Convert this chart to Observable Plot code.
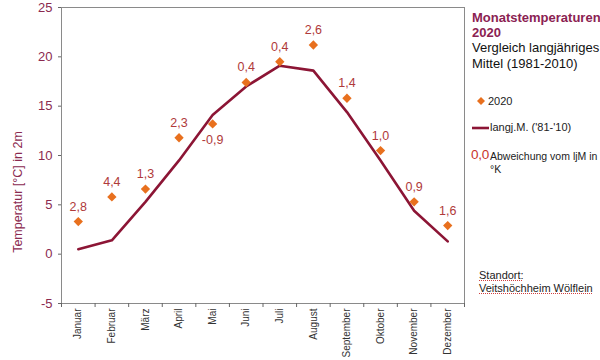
<!DOCTYPE html>
<html>
<head>
<meta charset="utf-8">
<script src="https://cdn.jsdelivr.net/npm/d3@7"></script>
<script src="https://cdn.jsdelivr.net/npm/@observablehq/plot@0.6"></script>
<style>
  body { margin: 0; background: #fff; font-family: "Liberation Sans", Arial, sans-serif; }
  #wrap { position: relative; width: 600px; height: 360px; overflow: hidden; }
  .abs { position: absolute; white-space: nowrap; line-height: 1; }
</style>
</head>
<body>
<div id="wrap"></div>
<script>
const months = ["Januar","Februar","März","April","Mai","Juni","Juli","August","September","Oktober","November","Dezember"];
const t2020 = [3.3, 5.8, 6.6, 11.8, 13.2, 17.4, 19.5, 21.2, 15.8, 10.5, 5.3, 2.9];
const meanLT = [0.5, 1.4, 5.3, 9.5, 14.1, 17.0, 19.1, 18.6, 14.4, 9.5, 4.4, 1.3];
const devLabels = ["2,8","4,4","1,3","2,3","-0,9","0,4","0,4","2,6","1,4","1,0","0,9","1,6"];
const yTicks = [-5, 0, 5, 10, 15, 20, 25];

const rows = months.map((m, i) => ({i: i + 0.5, month: m, t: t2020[i], mean: meanLT[i], dev: devLabels[i]}));
const above = rows.filter(d => !d.dev.startsWith("-"));
const below = rows.filter(d => d.dev.startsWith("-"));

const maroon = "#8b2a4f";
const lineCol = "#8c1535";
const dotCol = "#e8701e";
const labCol = "#b03a3a";

const chart = Plot.plot({
  width: 600, height: 360,
  marginLeft: 61, marginRight: 136, marginTop: 7, marginBottom: 57,
  style: {fontFamily: "Liberation Sans, Arial, sans-serif", background: "transparent"},
  x: {domain: [0, 12]},
  y: {domain: [-5, 25]},
  marks: [
    Plot.frame({stroke: "#8a8a8a"}),
    Plot.axisY({ticks: yTicks, tickSize: 3, tickPadding: 6, tickFormat: v => String(v), label: null, stroke: "#666", fill: maroon, fontSize: 13}),
    Plot.axisX({ticks: d3.range(0, 13), tickSize: 4, tickFormat: () => "", label: null, stroke: "#666"}),
    Plot.axisX({ticks: rows.map(d => d.i), tickSize: 0, tickPadding: 5, tickRotate: -90,
      tickFormat: v => months[Math.floor(v)], label: null, fill: "#333", fontSize: 10}),
    Plot.line(rows, {x: "i", y: "mean", stroke: lineCol, strokeWidth: 2.6}),
    Plot.dot(rows, {x: "i", y: "t", symbol: "diamond2", fill: dotCol, r: 4.2}),
    Plot.text(above, {x: "i", y: "t", text: "dev", dy: -15, fill: labCol, fontSize: 12.5}),
    Plot.text(below, {x: "i", y: "t", text: "dev", dy: 16, fill: labCol, fontSize: 12.5})
  ]
});

const wrap = document.getElementById("wrap");
wrap.appendChild(chart);

function add(html, css) {
  const d = document.createElement("div");
  d.className = "abs";
  d.innerHTML = html;
  d.style.cssText += css;
  wrap.appendChild(d);
  return d;
}

// y-axis title
add("Temperatur [°C] in 2m", `left:18px; top:192px; font-size:12.5px; color:${maroon}; transform: translate(-50%,-50%) rotate(-90deg);`);

// legend / header
add("Monatstemperaturen<br>2020", `left:472px; top:10px; font-size:13px; font-weight:bold; color:#8b2252; line-height:15px;`);
add("Vergleich langjähriges<br>Mittel (1981-2010)", `left:472px; top:40px; font-size:13px; color:#111; line-height:15.5px;`);

const sw = `<svg width="10" height="10" style="position:absolute;left:-12px;top:0px"><path d="M5 1 L9 5 L5 9 L1 5 Z" fill="${dotCol}"/></svg>`;
add(sw + "2020", `left:488px; top:96px; font-size:11px; color:#222;`);
add(`<svg width="17" height="4" style="position:absolute;left:-18px;top:4px"><line x1="0" x2="17" y1="2" y2="2" stroke="${lineCol}" stroke-width="2.6"/></svg>langj.M. ('81-'10)`,
    `left:490px; top:122px; font-size:11px; color:#222;`);
add("0,0", `left:471px; top:148px; font-size:13.5px; color:#c8342a; letter-spacing:-0.3px;`);
add("Abweichung vom ljM in<br>°K", `left:490px; top:150px; font-size:10.5px; color:#222; line-height:13px;`);

add("Standort:<br>Veitshöchheim Wölflein",
    `left:479px; top:269px; font-size:11px; color:#222; line-height:13px; text-decoration: underline dotted #d04040;`);
</script>
</body>
</html>
